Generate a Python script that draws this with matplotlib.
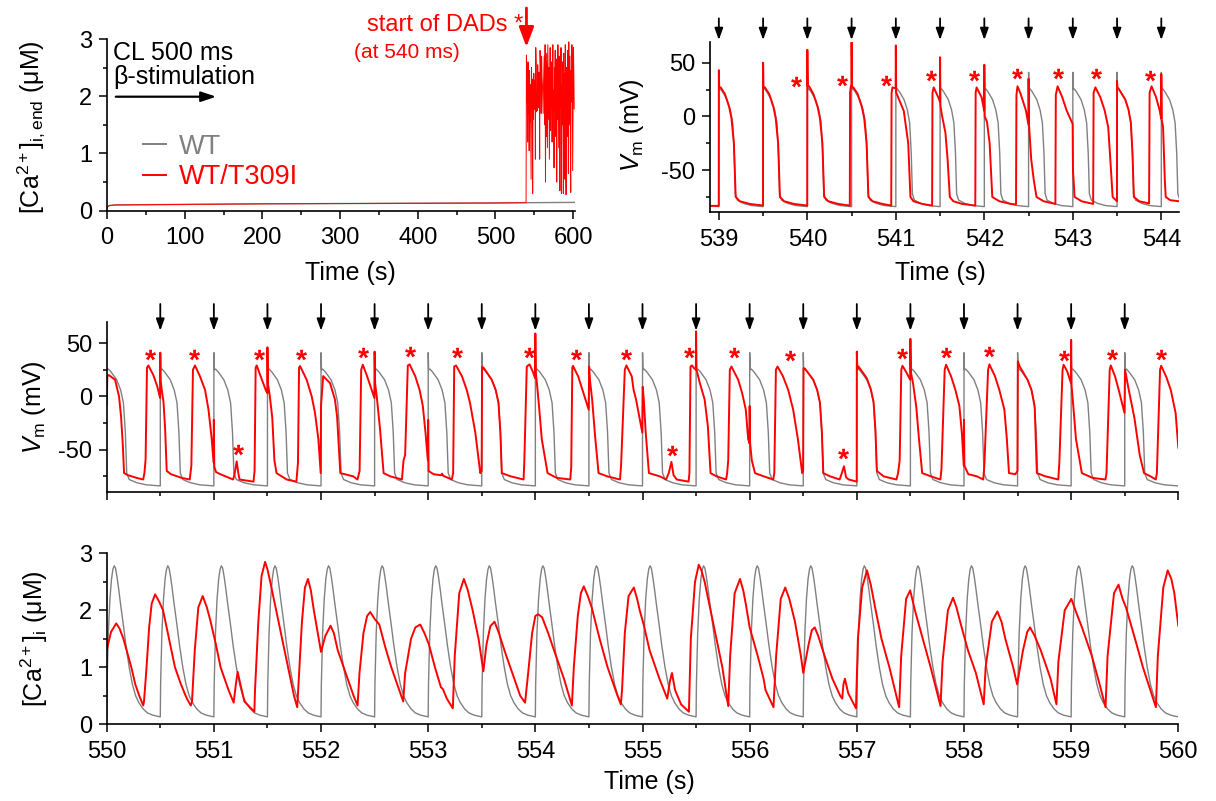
import numpy as np
import matplotlib
matplotlib.use('Agg')
import matplotlib.pyplot as plt
from matplotlib.lines import Line2D
from matplotlib.path import Path
from matplotlib.textpath import TextPath
from matplotlib.font_manager import FontProperties
from matplotlib.ticker import MultipleLocator

plt.rcParams['font.family'] = ['Liberation Sans', 'DejaVu Sans']
plt.rcParams['mathtext.fontset'] = 'custom'
plt.rcParams['mathtext.rm'] = 'Liberation Sans'
plt.rcParams['mathtext.it'] = 'Liberation Sans:italic'
plt.rcParams['axes.unicode_minus'] = False

GRAY = '#808080'
RED = '#ff0000'

# ---------------- data ----------------
# top-left: [Ca]i at end of each beat, 0-600 s
base_t = [0, 1, 3, 10, 50, 100, 200, 300, 400, 500, 539.5]
base_v = [0.04, 0.07, 0.09, 0.10, 0.105, 0.11, 0.12, 0.125, 0.13, 0.135, 0.14]
wt_end_t = [539.5, 602.0]
wt_end_v = [0.14, 0.145]
cl_s = 0.5
dad_start = 540.0
dad_end_v = [2.72, 1.9, 2.35, 1.2, 2.6, 1.7, 2.1, 1.05, 2.45, 1.55,
             2.2, 1.4, 0.55, 2.5, 1.8, 2.3, 0.3, 2.1, 1.6, 2.4,
             1.77, 2.28, 2.25, 0.9, 2.85, 2.55, 1.73, 1.97, 1.75, 2.55,
             1.8, 1.93, 2.42, 2.4, 0.9, 2.8, 2.55, 2.4, 1.7, 2.7,
             2.35, 2.22, 1.98, 1.7, 2.2, 2.45, 2.7, 1.5, 2.9, 0.5,
             2.6, 1.3, 2.75, 1.9, 1.1, 2.9, 2.2, 1.6, 2.5, 0.9,
             2.0, 2.85, 1.4, 2.3, 1.8, 2.6, 1.2, 2.4, 2.9, 1.7,
             2.1, 0.75, 2.5, 1.9, 2.8, 1.3, 2.2, 2.65, 0.5, 2.4,
             1.6, 2.9, 2.0, 1.1, 2.7, 2.3, 0.35, 2.5, 1.8, 2.85,
             0.3, 2.2, 1.5, 2.6, 2.0, 0.3, 2.75, 1.7, 2.4, 0.55,
             2.9, 1.9, 0.28, 2.5, 2.1, 1.3, 2.8, 2.35, 0.65, 2.95,
             1.5, 2.2, 2.7, 1.2, 0.32, 2.45, 1.9, 2.9, 2.6, 0.7,
             1.8, 2.85, 2.4, 1.78]

# WT action potential and Ca transient shapes (time after stimulus, value)
wt_ap_dt = [0, 0.0005, 0.004, 0.016, 0.04, 0.093, 0.13, 0.156, 0.174, 0.187, 0.21, 0.28, 0.37, 0.4995]
wt_ap_v = [-84, 41, 25, 25.6, 23, 15.6, 6, -6, -34, -72, -78, -81, -83, -84]
wt_ca_dt = [0, 0.003, 0.015, 0.03, 0.045, 0.058, 0.07, 0.082, 0.095, 0.11, 0.13, 0.155,
            0.18, 0.21, 0.24, 0.27, 0.30, 0.34, 0.38, 0.43, 0.4995]
wt_ca_v = [0.13, 0.7, 1.6, 2.2, 2.55, 2.72, 2.78, 2.74, 2.6, 2.4, 2.1, 1.75,
           1.38, 1.0, 0.7, 0.5, 0.38, 0.27, 0.2, 0.16, 0.13]

stim_top = [538.5, 539.0, 539.5, 540.0, 540.5, 541.0, 541.5, 542.0, 542.5, 543.0, 543.5, 544.0]
stim_mid = [550.0, 550.5, 551.0, 551.5, 552.0, 552.5, 553.0, 553.5, 554.0, 554.5, 555.0,
            555.5, 556.0, 556.5, 557.0, 557.5, 558.0, 558.5, 559.0, 559.5]

red_vm_top = [
    (538.90, -83.3), (538.999, -83.3),
    (539.000, 43), (539.004, 27), (539.020, 27), (539.068, 21), (539.117, 8.6), (539.143, -2),
    (539.170, -25), (539.190, -75), (539.237, -79), (539.350, -81.5), (539.499, -83),
    (539.500, 50), (539.504, 27), (539.520, 27), (539.568, 21), (539.617, 8.6), (539.643, -2),
    (539.670, -25), (539.690, -75), (539.737, -79), (539.850, -81.5), (539.999, -83),
    (540.000, 62), (540.004, 28), (540.020, 28), (540.068, 21), (540.117, 8.6), (540.143, -2),
    (540.170, -25), (540.190, -75), (540.237, -79), (540.350, -81.5), (540.480, -83),
    (540.483, 22), (540.492, 28), (540.499, 27), (540.500, 69), (540.504, 27), (540.520, 27),
    (540.568, 21), (540.617, 8.6), (540.643, -2), (540.670, -25), (540.690, -75), (540.737, -79),
    (540.850, -81.5), (540.948, -83),
    (540.952, 22), (540.962, 27), (540.998, 26), (541.000, 66), (541.004, 22), (541.040, 15),
    (541.090, 5), (541.140, -25), (541.165, -75), (541.200, -79), (541.300, -81.5), (541.410, -83),
    (541.414, 22), (541.428, 27), (541.480, 17.6), (541.499, 13.5), (541.500, 55), (541.504, 10),
    (541.520, 1.5), (541.560, -15), (541.585, -40), (541.610, -75), (541.650, -79), (541.750, -81.5),
    (541.898, -83),
    (541.902, 22), (541.913, 27), (541.970, 17.6), (541.998, 5.5), (542.000, 48), (542.004, 0),
    (542.030, -5), (542.060, -25), (542.090, -75), (542.170, -79), (542.300, -81.5), (542.358, -82),
    (542.363, 20), (542.375, 28), (542.410, 21), (542.470, 5.5), (542.499, -8), (542.500, 35),
    (542.505, -8), (542.530, -40), (542.560, -60), (542.590, -75), (542.670, -79), (542.803, -81.5),
    (542.808, 20), (542.828, 28), (542.880, 18), (542.930, 5.5), (542.998, -7), (543.002, -50),
    (543.020, -75), (543.100, -79), (543.230, -81.5),
    (543.235, 22), (543.255, 27), (543.310, 18), (543.360, 5.5), (543.400, -10), (543.420, -35),
    (543.450, -75), (543.499, -79),
    (543.500, 33), (543.504, 25.6), (543.516, 26), (543.593, 15.6), (543.630, 6), (543.656, -6),
    (543.674, -34), (543.690, -75), (543.750, -79), (543.862, -81),
    (543.868, 22), (543.890, 28), (543.940, 18), (543.980, 6), (543.999, -2), (544.000, 39.5),
    (544.004, -3), (544.020, -10), (544.040, -60), (544.050, -75), (544.100, -78), (544.200, -79),
]

red_vm_mid = [
    (550.000, -8), (550.006, 19), (550.020, 20), (550.078, 15.6), (550.115, 0), (550.134, -19),
    (550.150, -45), (550.162, -72), (550.200, -74), (550.280, -76.5), (550.340, -78),
    (550.352, -72), (550.363, -59), (550.376, 27), (550.389, 29), (550.435, 20), (550.473, 9),
    (550.498, -1.5), (550.500, 41), (550.503, 15), (550.515, 5), (550.530, -5), (550.545, -30),
    (550.560, -70), (550.600, -73), (550.700, -76.5), (550.775, -78),
    (550.790, -65), (550.805, 25), (550.824, 29), (550.871, 18.7), (550.918, 6), (550.950, -12.5),
    (550.980, -40), (550.997, -62), (551.000, -22), (551.004, -66), (551.020, -71), (551.060, -73),
    (551.180, -78),
    (551.195, -72), (551.213, -61), (551.228, -72), (551.240, -78), (551.370, -80),
    (551.380, -70), (551.390, 27), (551.400, 29), (551.437, 18.7), (551.484, 6), (551.499, 3),
    (551.500, 46), (551.504, 12), (551.520, 2), (551.545, -20), (551.565, -60), (551.585, -72),
    (551.680, -78), (551.770, -80),
    (551.785, -62), (551.795, 27), (551.804, 28.5), (551.866, 15.6), (551.913, 0), (551.944, -15.6),
    (551.975, -40), (551.997, -72), (552.000, -9), (552.020, 19), (552.084, 12.5), (552.130, -3),
    (552.150, -19), (552.167, -50), (552.180, -72), (552.300, -75), (552.340, -78),
    (552.360, -70), (552.375, 25), (552.390, 29.7), (552.426, 20), (552.460, 10), (552.498, -1.5),
    (552.500, 42), (552.505, 12), (552.520, 0), (552.550, -30), (552.584, -72), (552.646, -75),
    (552.755, -78),
    (552.770, -60), (552.785, -55), (552.810, 29), (552.827, 30), (552.880, 18.7), (552.920, 6),
    (552.950, -9), (552.975, -34), (552.997, -60), (553.000, -22), (553.004, -70), (553.050, -73),
    (553.120, -74), (553.130, -72.5), (553.140, -74.5), (553.220, -78),
    (553.233, -72), (553.243, 28), (553.260, 29), (553.316, 18.7), (553.360, 6), (553.390, -6),
    (553.440, -34), (553.486, -72), (553.499, -70), (553.503, 28), (553.520, 26.5), (553.593, 15.6),
    (553.630, 6), (553.656, -6), (553.674, -34), (553.687, -72), (553.770, -75), (553.890, -78),
    (553.897, -62), (553.920, 28), (553.946, 30), (553.977, 23), (553.998, 17), (554.000, 59),
    (554.004, 22), (554.015, 12), (554.035, -10), (554.060, -40), (554.114, -72), (554.200, -76.5),
    (554.326, -78),
    (554.335, -66), (554.345, 27), (554.351, 28.7), (554.400, 18.7), (554.440, 6), (554.498, -12.5),
    (554.502, 28), (554.510, 15), (554.530, -3), (554.560, -40), (554.590, -72), (554.670, -75),
    (554.790, -78),
    (554.800, -65), (554.835, 25), (554.850, 29), (554.900, 18.7), (554.917, 6), (554.940, -3),
    (554.998, -34), (555.002, 9), (555.012, -3), (555.030, -34), (555.060, -72), (555.160, -75),
    (555.220, -78),
    (555.245, -72), (555.270, -61.5), (555.290, -74), (555.320, -78), (555.430, -80),
    (555.438, -72), (555.448, 28), (555.463, 29), (555.480, 26.5), (555.498, 25), (555.500, 61),
    (555.504, 25), (555.535, 12.5), (555.580, -3), (555.610, -28), (555.635, -72), (555.690, -75),
    (555.780, -78),
    (555.790, -72), (555.800, -60), (555.815, 25), (555.830, 28), (555.893, 15.6), (555.930, 3),
    (555.964, -12.5), (555.986, -40), (555.998, -44), (556.000, -9), (556.004, -44), (556.020, -60),
    (556.050, -72), (556.130, -75), (556.220, -78),
    (556.230, -72), (556.245, 25), (556.260, 28), (556.310, 19), (556.360, 6), (556.406, -12.5),
    (556.450, -40), (556.490, -72), (556.499, -70), (556.503, 26.5), (556.516, 26), (556.593, 15.6),
    (556.630, 6), (556.656, -6), (556.674, -34), (556.687, -72), (556.750, -75), (556.840, -78),
    (556.860, -72), (556.880, -65.6), (556.900, -76), (556.925, -78), (556.999, -80),
    (557.000, 42), (557.005, 26), (557.016, 28), (557.093, 17), (557.130, 7), (557.156, -5),
    (557.174, -32), (557.187, -70), (557.250, -75), (557.370, -78),
    (557.385, -72), (557.400, -60), (557.415, 25), (557.426, 28.7), (557.460, 23), (557.498, 15.6),
    (557.500, 54), (557.504, 23), (557.525, 12), (557.555, -10), (557.580, -40), (557.610, -72),
    (557.690, -75), (557.780, -78),
    (557.790, -68), (557.820, 25), (557.833, 29.7), (557.880, 18.7), (557.920, 6), (557.957, -9),
    (557.980, -34), (557.998, -65), (558.000, -22), (558.004, -65), (558.040, -73), (558.120, -75),
    (558.180, -78),
    (558.190, -65), (558.225, 25), (558.237, 30), (558.290, 18.7), (558.330, 6), (558.377, -12.5),
    (558.400, -40), (558.420, -72), (558.480, -73), (558.499, -70), (558.503, 33), (558.520, 28),
    (558.593, 15.6), (558.630, 6), (558.660, -10), (558.680, -72), (558.760, -75), (558.880, -78),
    (558.890, -62), (558.920, 25), (558.930, 29.7), (558.965, 23), (558.998, 12.5), (559.000, 53),
    (559.004, 10), (559.020, -9), (559.045, -40), (559.100, -72), (559.200, -76.5), (559.320, -78),
    (559.330, -72), (559.360, 25), (559.370, 29), (559.410, 18.7), (559.444, 6), (559.498, -15.6),
    (559.503, 25), (559.530, 10), (559.590, -20), (559.640, -55), (559.680, -72), (559.740, -75),
    (559.790, -78),
    (559.800, -72), (559.830, 25), (559.840, 28.7), (559.886, 18.7), (559.930, 6), (559.975, -15.6),
    (560.000, -48),
]

red_ca_mid = [
    (550.000, 1.3), (550.04, 1.62), (550.089, 1.77), (550.12, 1.68), (550.156, 1.5), (550.23, 1.0),
    (550.267, 0.7), (550.304, 0.5), (550.341, 0.33),
    (550.348, 0.4), (550.37, 0.95), (550.396, 1.7), (550.42, 2.12), (550.452, 2.28), (550.49, 2.15),
    (550.526, 2.0), (550.581, 1.5), (550.637, 1.0), (550.693, 0.7), (550.748, 0.45), (550.785, 0.33),
    (550.796, 0.4), (550.822, 1.3), (550.855, 2.05), (550.896, 2.25), (550.935, 2.05), (550.97, 1.8),
    (551.019, 1.4), (551.063, 1.0), (551.137, 0.6), (551.185, 0.38), (551.205, 0.7), (551.222, 0.92),
    (551.248, 0.7), (551.285, 0.4), (551.378, 0.22),
    (551.384, 0.6), (551.415, 1.8), (551.445, 2.6), (551.478, 2.85), (551.50, 2.72), (551.526, 2.5),
    (551.581, 2.0), (551.637, 1.5), (551.693, 1.0), (551.748, 0.5), (551.778, 0.3),
    (551.793, 0.8), (551.822, 1.8), (551.85, 2.4), (551.878, 2.55), (551.905, 2.35), (551.933, 2.0),
    (552.0, 1.27), (552.04, 1.55), (552.089, 1.73), (552.12, 1.6), (552.156, 1.3), (552.248, 0.8),
    (552.304, 0.5), (552.341, 0.33),
    (552.359, 0.9), (552.396, 1.6), (552.43, 1.9), (552.459, 1.97), (552.50, 1.85), (552.544, 1.75),
    (552.60, 1.35), (552.656, 1.0), (552.73, 0.6), (552.767, 0.4),
    (552.785, 0.9), (552.84, 1.5), (552.88, 1.7), (552.926, 1.75), (552.965, 1.6), (553.007, 1.4),
    (553.063, 1.0), (553.119, 0.65), (553.137, 0.62), (553.174, 0.45), (553.23, 0.28),
    (553.248, 1.2), (553.29, 2.3), (553.333, 2.55), (553.37, 2.35), (553.415, 2.0), (553.47, 1.5),
    (553.515, 0.93), (553.544, 1.4), (553.58, 1.72), (553.619, 1.8), (553.66, 1.6), (553.711, 1.3),
    (553.804, 0.8), (553.859, 0.5), (553.904, 0.38),
    (553.933, 0.9), (553.97, 1.6), (554.0, 1.9), (554.026, 1.93), (554.063, 1.88), (554.12, 1.6),
    (554.174, 1.3), (554.267, 0.8), (554.341, 0.33),
    (554.359, 1.0), (554.396, 1.9), (554.425, 2.3), (554.452, 2.42), (554.49, 2.25), (554.526, 2.05),
    (554.6, 1.5), (554.674, 1.0), (554.767, 0.5), (554.798, 0.35),
    (554.809, 0.6), (554.835, 1.6), (554.87, 2.25), (554.919, 2.4), (554.95, 2.2), (554.974, 2.0),
    (555.011, 1.75), (555.066, 1.3), (555.158, 0.8), (555.231, 0.45), (555.255, 0.75), (555.275, 0.9),
    (555.304, 0.6), (555.36, 0.35), (555.433, 0.22),
    (555.451, 1.5), (555.49, 2.5), (555.525, 2.8), (555.55, 2.7), (555.58, 2.5), (555.635, 2.0),
    (555.69, 1.5), (555.745, 1.0), (555.8, 0.32),
    (555.818, 1.2), (555.86, 2.3), (555.91, 2.55), (555.94, 2.35), (555.965, 2.1), (556.0, 1.7),
    (556.075, 1.2), (556.13, 0.8), (556.148, 0.6), (556.222, 0.3),
    (556.247, 1.2), (556.29, 2.2), (556.332, 2.4), (556.37, 2.2), (556.423, 1.8), (556.478, 1.2),
    (556.5, 0.9), (556.55, 1.4), (556.58, 1.65), (556.607, 1.7), (556.64, 1.55), (556.699, 1.2),
    (556.772, 0.8), (556.845, 0.5), (556.864, 0.45), (556.875, 0.7), (556.889, 0.8), (556.919, 0.55),
    (556.992, 0.28),
    (557.01, 1.5), (557.05, 2.4), (557.095, 2.7), (557.13, 2.45), (557.176, 2.0), (557.23, 1.5),
    (557.304, 1.0), (557.395, 0.3),
    (557.414, 1.2), (557.46, 2.2), (557.498, 2.35), (557.542, 2.0), (557.616, 1.5), (557.689, 1.0),
    (557.781, 0.32),
    (557.8, 1.1), (557.85, 2.0), (557.898, 2.22), (557.93, 2.05), (557.964, 1.8), (558.037, 1.3),
    (558.111, 0.9), (558.184, 0.35),
    (558.202, 1.0), (558.26, 1.8), (558.312, 1.98), (558.35, 1.8), (558.386, 1.5), (558.459, 1.0),
    (558.496, 0.7), (558.551, 1.3), (558.59, 1.62), (558.617, 1.7), (558.66, 1.55), (558.716, 1.3),
    (558.808, 0.8), (558.863, 0.35),
    (558.881, 1.1), (558.94, 2.0), (559.002, 2.2), (559.05, 1.95), (559.101, 1.7), (559.193, 1.2),
    (559.266, 0.7), (559.321, 0.3),
    (559.34, 1.2), (559.40, 2.3), (559.442, 2.45), (559.48, 2.2), (559.512, 2.05), (559.596, 1.5),
    (559.67, 1.0), (559.791, 0.3),
    (559.809, 1.2), (559.86, 2.4), (559.901, 2.7), (559.935, 2.55), (559.963, 2.3), (560.0, 1.73),
]

star_top_t = [539.877, 540.393, 540.894, 541.395, 541.884, 542.37, 542.833, 543.258, 543.876]
star_top_v = [28.7, 29.6, 29.6, 34, 34, 35.5, 35.5, 35.5, 34]
star_mid_t = [550.404, 550.818, 551.418, 551.813, 552.395, 552.827, 553.265, 553.94, 554.376,
              554.85, 555.435, 555.855, 556.375, 557.426, 557.836, 558.23, 558.937, 559.382, 559.837,
              551.229, 555.277, 556.872]
star_mid_v = [35, 35, 35, 35, 37, 37.5, 37, 37, 35, 35, 37, 37, 34, 36, 37, 38, 34, 35, 35,
              -54, -55, -58]

# ---------------- figure ----------------
W, H = 1216, 801
fig = plt.figure(figsize=(W / 100, H / 100), dpi=100)


def fx(px):
    return px / W


def fy(py):
    return 1 - py / H


def axes_px(left, top, right, bottom):
    return fig.add_axes([fx(left), fy(bottom), (right - left) / W, (bottom - top) / H])


def periodic(stims, dt, v):
    t = np.concatenate([s + np.asarray(dt) for s in stims])
    return t, np.tile(v, len(stims))


def style(ax, xmaj, xmin, ymaj, ymin, xlabels=True):
    for s in ['top', 'right']:
        ax.spines[s].set_visible(False)
    for s in ['left', 'bottom']:
        ax.spines[s].set_linewidth(1.2)
    ax.xaxis.set_major_locator(MultipleLocator(xmaj))
    ax.xaxis.set_minor_locator(MultipleLocator(xmin))
    ax.yaxis.set_major_locator(MultipleLocator(ymaj))
    ax.yaxis.set_minor_locator(MultipleLocator(ymin))
    ax.tick_params(which='major', direction='out', length=5.5, width=1.1, labelsize=17, pad=5)
    ax.tick_params(axis='x', which='major', pad=6.5)
    ax.tick_params(which='minor', direction='out', length=3, width=1.1)
    if not xlabels:
        ax.tick_params(axis='x', labelbottom=False)


tp = TextPath((0, 0), '*', size=1, prop=FontProperties(family='Liberation Sans', weight='bold'))
verts = tp.vertices
star = Path(verts - (verts.min(0) + verts.max(0)) / 2, tp.codes)


def stars(ax, ts, vs):
    ax.plot(ts, vs, ls='none', marker=star, ms=14, color=RED, mec='none', clip_on=False)


def stim_arrows(ax, ts, tip, tail):
    for s in ts:
        ax.annotate('', xy=(s, tip), xytext=(s, tail), xycoords=('data', 'axes fraction'),
                    textcoords=('data', 'axes fraction'), annotation_clip=False,
                    arrowprops=dict(arrowstyle='-|>,head_length=0.7,head_width=0.25', color='black',
                                    lw=1.3, shrinkA=0, shrinkB=0, mutation_scale=10))


# --- top-left: [Ca]i,end over 600 s
ax1 = axes_px(107, 39, 575, 210.7)
t_dad = dad_start + cl_s * np.arange(len(dad_end_v))
ax1.plot(base_t + wt_end_t[1:], base_v + wt_end_v[1:], color=GRAY, lw=1.0)
ax1.plot(base_t + list(t_dad), base_v + dad_end_v, color=RED, lw=0.7)
ax1.set_xlim(0, 602.5)
ax1.set_ylim(0, 3)
style(ax1, 100, 50, 1, 0.5)

fig.text(fx(113), fy(52.7), 'CL 500 ms', fontsize=18, ha='left', va='center')
fig.text(fx(113), fy(77), 'β-stimulation', fontsize=18, ha='left', va='center')
fig.add_artist(matplotlib.patches.FancyArrowPatch(
    (fx(113), fy(96.7)), (fx(219), fy(96.7)), transform=fig.transFigure,
    arrowstyle='-|>,head_length=0.9,head_width=0.3', mutation_scale=10, color='black', lw=1.6))
fig.text(fx(523), fy(25), 'start of DADs *', fontsize=17, color=RED, ha='right', va='center')
fig.text(fx(407), fy(52.7), '(at 540 ms)', fontsize=15, color=RED, ha='center', va='center')
ax1.annotate('', xy=(dad_start, fy(47)), xytext=(dad_start, fy(8)),
             xycoords=('data', 'figure fraction'), textcoords=('data', 'figure fraction'),
             annotation_clip=False,
             arrowprops=dict(arrowstyle='-|>,head_length=1.2,head_width=0.45', color=RED, lw=2,
                             shrinkA=0, shrinkB=0, mutation_scale=10))
for name, col, yl, yt in [('WT', GRAY, 144, 146.7), ('WT/T309I', RED, 175, 176.7)]:
    fig.add_artist(Line2D([fx(143), fx(166)], [fy(yl), fy(yl)], color=col, lw=1.4,
                          transform=fig.transFigure))
    fig.text(fx(179), fy(yt), name, fontsize=19.5, color=col, ha='left', va='center')

fig.text(fx(31), fy(127), r'[Ca$^{2+}$]$_{\rm i,end}$ (μM)', fontsize=18, rotation=90,
         ha='center', va='center')
fig.text(fx(350), fy(273), 'Time (s)', fontsize=18, ha='center', va='center')

# --- top-right: Vm 539-544 s
ax2 = axes_px(710, 41.7, 1179, 212)
gt, gv = periodic(stim_top, wt_ap_dt, wt_ap_v)
ax2.plot(gt, gv, color=GRAY, lw=1.0)
rt, rv = np.array(red_vm_top).T
ax2.plot(rt, rv, color=RED, lw=1.4)
ax2.set_xlim(538.9, 544.2)
ax2.set_ylim(-89, 69.5)
style(ax2, 1, 0.5, 50, 25)
stim_arrows(ax2, stim_top[1:], 1.01, 1.137)
stars(ax2, star_top_t, star_top_v)
fig.text(fx(632), fy(125), r'$V_{\rm m}$ (mV)', fontsize=18, rotation=90, ha='center', va='center')
fig.text(fx(940), fy(273), 'Time (s)', fontsize=18, ha='center', va='center')

# --- middle: Vm 550-560 s
ax3 = axes_px(106.7, 322.3, 1178.3, 492.3)
gt, gv = periodic(stim_mid, wt_ap_dt, wt_ap_v)
keep = gt >= 550.004
ax3.plot(gt[keep], gv[keep], color=GRAY, lw=1.0)
rt, rv = np.array(red_vm_mid).T
ax3.plot(rt, rv, color=RED, lw=1.4)
ax3.set_xlim(550, 560)
ax3.set_ylim(-90, 69.5)
style(ax3, 1, 0.5, 50, 25, xlabels=False)
stim_arrows(ax3, stim_mid[1:], 0.9506, 1.1076)
stars(ax3, star_mid_t, star_mid_v)
fig.text(fx(34), fy(407), r'$V_{\rm m}$ (mV)', fontsize=18, rotation=90, ha='center', va='center')

# --- bottom: [Ca]i 550-560 s
ax4 = axes_px(106.7, 553.3, 1178.3, 724.3)
gt, gv = periodic(stim_mid, wt_ca_dt, wt_ca_v)
ax4.plot(gt, gv, color=GRAY, lw=1.0)
rt, rv = np.array(red_ca_mid).T
ax4.plot(rt, rv, color=RED, lw=1.4)
ax4.set_xlim(550, 560)
ax4.set_ylim(0, 3)
style(ax4, 1, 0.5, 1, 0.5)
fig.text(fx(34), fy(639), r'[Ca$^{2+}$]$_{\rm i}$ (μM)', fontsize=18, rotation=90,
         ha='center', va='center')
fig.text(fx(649), fy(782), 'Time (s)', fontsize=18, ha='center', va='center')

fig.savefig('out.png', dpi=100)
